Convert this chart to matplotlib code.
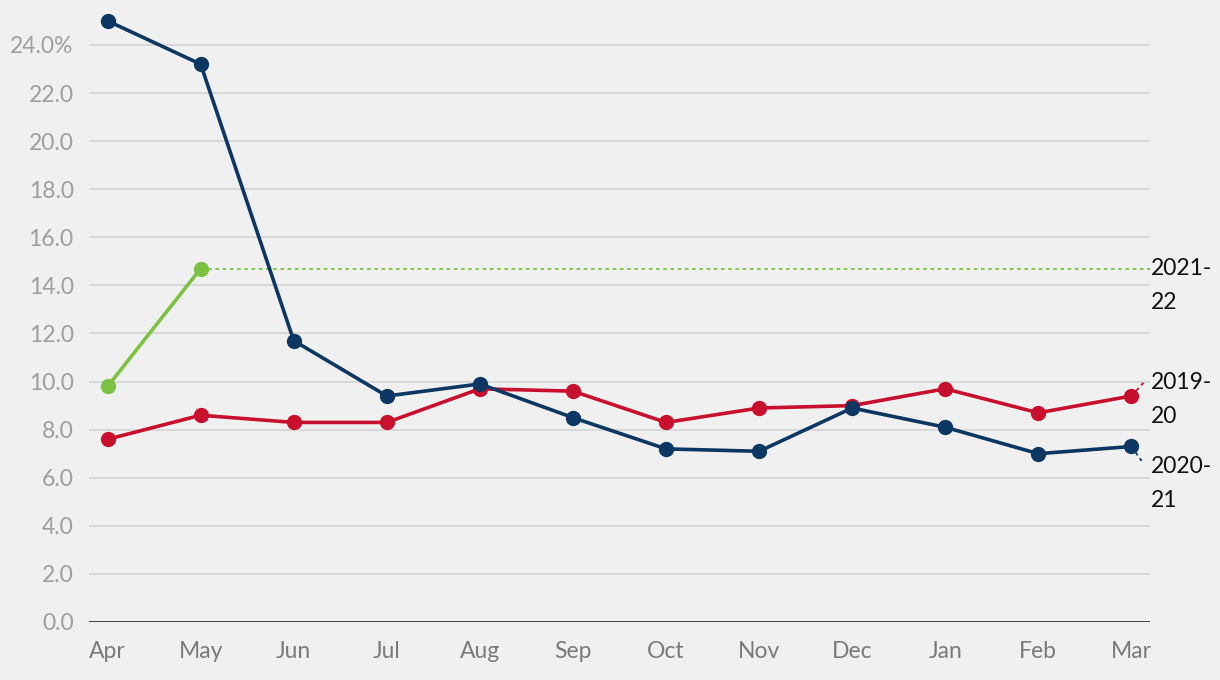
import numpy as np
import matplotlib.pyplot as plt

plt.rcParams['font.family'] = ['Lato', 'DejaVu Sans']

months = ['Apr', 'May', 'Jun', 'Jul', 'Aug', 'Sep', 'Oct', 'Nov', 'Dec', 'Jan', 'Feb', 'Mar']
y2019 = [7.6, 8.6, 8.3, 8.3, 9.7, 9.6, 8.3, 8.9, 9.0, 9.7, 8.7, 9.4]
y2020 = [25.0, 23.2, 11.7, 9.4, 9.9, 8.5, 7.2, 7.1, 8.9, 8.1, 7.0, 7.3]
y2021 = [9.8, 14.7]

blue = '#0c3762'
red = '#c8102e'
green = '#7dc142'
bg = '#f0f0f0'

fig = plt.figure(figsize=(12.2, 6.8), dpi=100, facecolor=bg)
ax = fig.add_axes([89 / 1220, 58 / 680, 1061 / 1220, 622 / 680], facecolor=bg)

x = np.arange(len(months))

# grid
for v in range(2, 26, 2):
    ax.axhline(v, color='#d6d6d6', lw=1.3, zorder=1)
ax.axhline(0, color='#333333', lw=2, zorder=2)

ax.plot(x, y2019, color=red, lw=2.6, marker='o', ms=10, zorder=4, clip_on=False)
ax.plot(x, y2020, color=blue, lw=2.6, marker='o', ms=10, zorder=5, clip_on=False)
ax.plot(x[:len(y2021)], y2021, color=green, lw=2.6, marker='o', ms=10, zorder=6, clip_on=False)

# dotted extensions to the labels
ax.plot([x[len(y2021) - 1], 11.2], [y2021[-1], y2021[-1]], color=green, lw=1.3,
        ls=(0, (2, 2)), zorder=3, clip_on=False)
ax.plot([11, 11.13], [y2019[-1], y2019[-1] + 0.55], color=red, lw=1.3,
        ls=(0, (2, 2)), zorder=3, clip_on=False)
ax.plot([11, 11.11], [y2020[-1], y2020[-1] - 0.6], color=blue, lw=1.3,
        ls=(0, (2, 2)), zorder=3, clip_on=False)

lab_kw = dict(fontsize=16.5, color='#111111', ha='left', va='center', linespacing=1.75)
ax.text(11.21, y2021[-1] - 0.7, '2021-\n22', **lab_kw)
ax.text(11.21, y2019[-1] - 0.15, '2019-\n20', **lab_kw)
ax.text(11.21, y2020[-1] - 1.55, '2020-\n21', **lab_kw)

ax.set_xlim(-0.2, 11.2)
ax.set_ylim(0, 25.87)
ax.set_xticks(x)
ax.set_xticklabels(months, fontsize=16.5, color='#7a7a7a')
yt = np.arange(0, 25, 2)
ax.set_yticks(yt)
ax.set_yticklabels([f'{v:.1f}' for v in yt[:-1]] + [f'{yt[-1]:.1f}%'], fontsize=16.5, color='#9e9e9e')
ax.tick_params(length=0)
ax.tick_params(axis='y', pad=11)
ax.tick_params(axis='x', pad=14)
for s in ax.spines.values():
    s.set_visible(False)

fig.savefig('out.png', dpi=100, facecolor=bg)
